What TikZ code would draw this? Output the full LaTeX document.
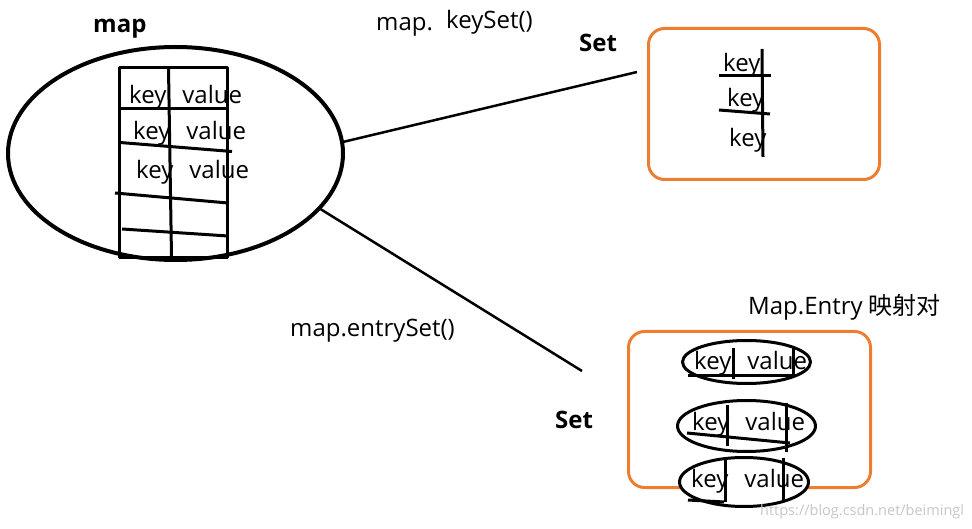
\documentclass[tikz,border=0pt]{standalone}
\usepackage{fontspec}
\setmainfont{Open Sans}
\newfontfamily\cjkfont{Noto Sans CJK SC}
\usetikzlibrary{positioning,shapes.geometric}
\definecolor{setorange}{RGB}{237,125,49}
\newcommand{\kv}{key\hspace{16pt}value}

\begin{document}
\begin{tikzpicture}[x=1pt, y=-1pt, line join=round,
txt/.style={inner sep=0pt, anchor=base west, font=\fontsize{24}{28}\selectfont},
bold/.style={txt, font=\fontsize{24}{28}\selectfont\bfseries},
cell/.style={line width=3pt},
link/.style={line width=2.5pt},
setbox/.style={draw=setorange, line width=3pt, rounded corners=16pt, inner sep=0pt},
pair/.style={ellipse, draw, line width=3pt, fill=white, inner sep=0pt}]
\useasboundingbox (0,0) rectangle (972,529);

\node[ellipse, draw, line width=4pt, inner sep=0pt, minimum width=335pt, minimum height=213pt] (mapoval) at (175.5,153.5) {};
\node[bold] (maplabel) at (93,33) {map};
\draw[cell] (119.5,67.5) rectangle (227.5,257.5);
\draw[cell] (168.5,68) -- (171.5,257);
\draw[cell] (119.5,109) -- (227.5,109);
\draw[cell] (120,142.5) -- (232,151.5);
\draw[cell] (115,193) -- (228,203);
\draw[cell] (122,229) -- (228,236);
\node[txt] (row1) at (129,104) {\kv};
\node[txt] (row2) at (133,140) {\kv};
\node[txt] (row3) at (136,179) {\kv};

\node[txt] (keycall) at (376,31) {map.};
\node[txt] (keyset) at (446,29) {keySet()};
\node[bold] (set1) at (579,52) {Set};
\coordinate (keyend) at (637,72);
\draw[link] (mapoval.4) -- (keyend);
\node[setbox, minimum width=231pt, minimum height=151pt] (keybox) at (764,104) {};
\draw[cell] (762,49) -- (763,157);
\draw[cell] (719,76) -- (771,76);
\draw[cell] (719,110) -- (770,114);
\node[txt] (key1) at (723,72) {key};
\node[txt] (key2) at (727,107) {key};
\node[txt] (key3) at (729,147) {key};

\node[txt] (entrycall) at (290,337) {map.entrySet()};
\node[bold] (set2) at (555,428) {Set};
\coordinate (entryend) at (582,371);
\draw[link] (mapoval.-21) -- (entryend);
\node[txt] (entrylabel) at (748,315) {Map.Entry {\cjkfont 映射对}};
\node[setbox, minimum width=242pt, minimum height=156pt] (entrybox) at (749.5,409.5) {};

\node[pair, minimum width=128pt, minimum height=43pt] (pair1) at (746.5,362) {};
\node[pair, minimum width=138pt, minimum height=51pt] (pair2) at (746.5,426) {};
\node[pair, minimum width=129pt, minimum height=49pt] (pair3) at (744,482) {};
\draw[cell] (733,348) -- (733,379);
\draw[cell] (793,347) -- (793,377);
\draw[cell] (688,375) -- (797,375);
\draw[cell] (727,405) -- (727,446);
\draw[cell] (786,403) -- (786,452);
\draw[cell] (687,433) -- (790,443);
\draw[cell] (725,460) -- (725,502);
\draw[cell] (783,458) -- (783,500);
\draw[cell] (688,500) -- (724,502);
\node[txt] (pairtxt1) at (694,370) {\kv};
\node[txt] (pairtxt2) at (692,430) {\kv};
\node[txt] (pairtxt3) at (691,487) {\kv};

\node[inner sep=0pt, anchor=base west, text=gray!45, font=\fontsize{14.5}{16}\selectfont] (mark) at (760,515) {https://blog.csdn.net/beimingl};
\end{tikzpicture}
\end{document}
